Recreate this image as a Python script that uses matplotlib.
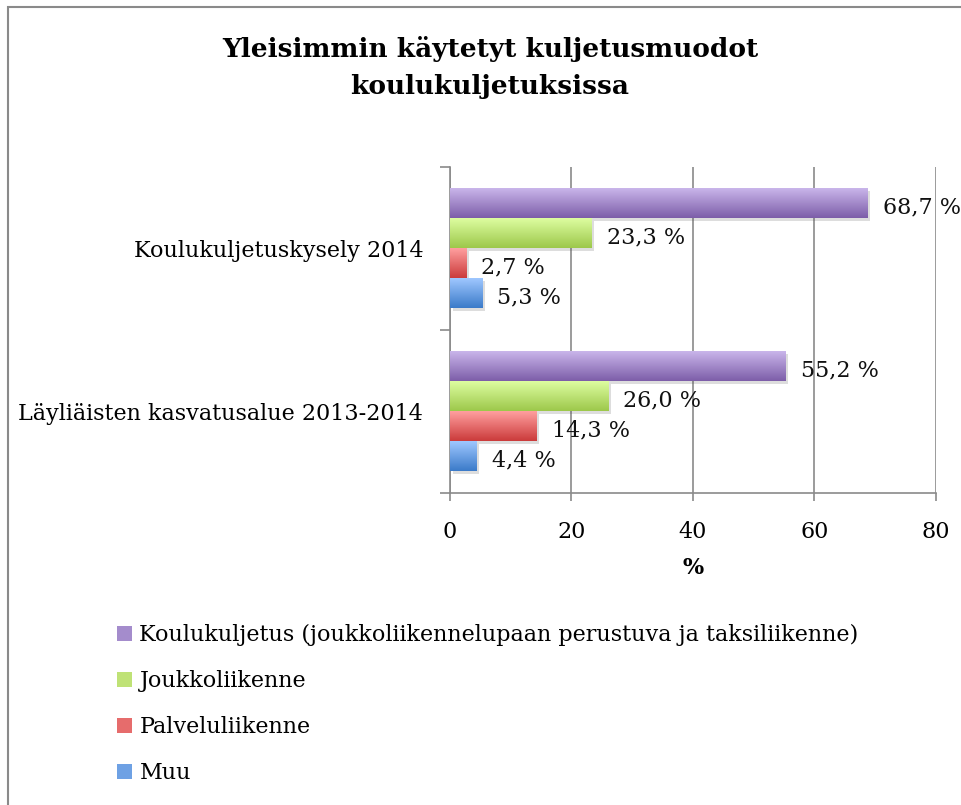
import matplotlib.pyplot as plt
import numpy as np
from matplotlib.colors import LinearSegmentedColormap
from matplotlib.patches import Rectangle, Patch
from matplotlib import patheffects as pe

plt.rcParams["font.family"] = ["DejaVu Serif"]

categories = ["Koulukuljetuskysely 2014", "Läyliäisten kasvatusalue 2013-2014"]
series = [
    "Koulukuljetus (joukkoliikennelupaan perustuva ja taksiliikenne)",
    "Joukkoliikenne",
    "Palveluliikenne",
    "Muu",
]
values = [
    [68.7, 55.2],   # Koulukuljetus
    [23.3, 26.0],   # Joukkoliikenne
    [2.7, 14.3],    # Palveluliikenne
    [5.3, 4.4],     # Muu
]
x_ticks = [0, 20, 40, 60, 80]

# (light top, dark bottom) per series
grad_colors = [
    ("#c9b5ea", "#7d5ea9"),
    ("#ddfda0", "#9dc84b"),
    ("#ff9f9f", "#cb3b3b"),
    ("#9fc7ff", "#3b7bc9"),
]
legend_colors = ["#a48ccc", "#bfe276", "#e66c6c", "#6ea1e4"]

fs = 16

fig = plt.figure(figsize=(9.61, 8.05), dpi=100)
ax = fig.add_axes([0.468, 0.3876, 0.506, 0.405])

gray = "#8a8a8a"
ypos = np.array([1, 0])  # first category on top
h = 0.184
grad = np.linspace(0, 1, 64).reshape(-1, 1)

for i, (name, vals) in enumerate(zip(series, values)):
    top, bottom = grad_colors[i]
    cmap = LinearSegmentedColormap.from_list(f"g{i}", [bottom, top])
    bars = ax.barh(ypos + (1.5 - i) * h, vals, height=h, color=bottom,
                   zorder=3, label=name,
                   path_effects=[pe.SimplePatchShadow(offset=(2, -2), alpha=0.2, shadow_rgbFace="#555555"),
                                 pe.Normal()])
    for bar, v in zip(bars, vals):
        x0, y0 = bar.get_x(), bar.get_y()
        im = ax.imshow(grad, extent=[x0, x0 + bar.get_width(), y0, y0 + bar.get_height()],
                       origin="lower", aspect="auto", cmap=cmap, zorder=4)
        im.set_clip_path(bar)
        ax.annotate(f"{v:.1f} %".replace(".", ","), (x0 + bar.get_width(), y0 + bar.get_height() / 2),
                    xytext=(11, -3), textcoords="offset points", va="center", ha="left",
                    fontsize=fs, color="#111111", zorder=5, annotation_clip=False)

ax.set_xlim(0, 80)
ax.set_ylim(-0.5, 1.5)
ax.set_xticks(x_ticks)
ax.set_yticks(ypos)
ax.set_yticklabels(categories)
ax.set_yticks([-0.5, 0.5, 1.5], minor=True)
ax.tick_params(axis="y", which="major", length=0, labelsize=fs, pad=19)
ax.tick_params(axis="y", which="minor", length=7, width=1.2, color=gray)
ax.tick_params(axis="x", length=6, width=1.2, color=gray, labelsize=fs, pad=14.5)
ax.grid(axis="x", color=gray, linewidth=1.2, zorder=0)
for s in ["top", "right"]:
    ax.spines[s].set_visible(False)
for s in ["left", "bottom"]:
    ax.spines[s].set_color(gray)
    ax.spines[s].set_linewidth(1.2)
ax.set_xlabel("%", fontsize=fs, fontweight="bold", labelpad=10)

fig.text(0.51, 0.916, "Yleisimmin käytetyt kuljetusmuodot\nkoulukuljetuksissa",
         ha="center", va="center", fontsize=19, fontweight="bold", linespacing=1.6)

handles = [Patch(facecolor=c, edgecolor="none") for c in legend_colors]
leg = fig.legend(handles, series, loc="upper left", bbox_to_anchor=(0.122, 0.225),
                 frameon=False, fontsize=fs, handlelength=0.65, handleheight=0.65,
                 handletextpad=0.35, labelspacing=1.08, borderaxespad=0, borderpad=0)

# outer chart frame (runs off the right and bottom of the image)
fig.patches.append(Rectangle((8 / 961, -0.1), 1.2, 1.1 - 7 / 805, transform=fig.transFigure,
                             fill=False, edgecolor=gray, linewidth=1.5))

fig.savefig("out.png", dpi=100)
